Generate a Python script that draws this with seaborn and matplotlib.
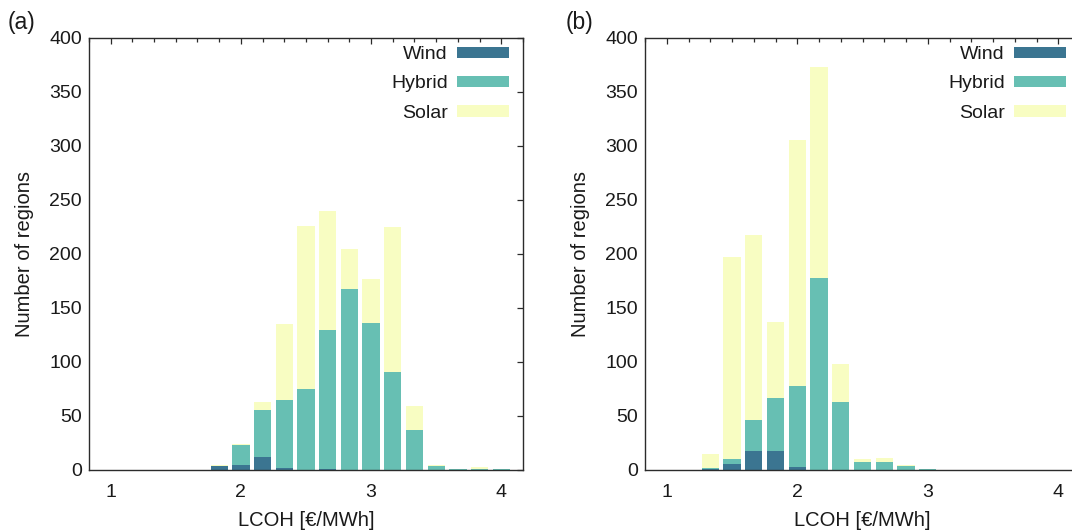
import numpy as np
import pandas as pd
import matplotlib
matplotlib.use("Agg")
import matplotlib.pyplot as plt
import seaborn as sns
from matplotlib.ticker import MultipleLocator
from matplotlib.patches import Patch

# ---- data (bin centres in LCOH, counts per technology) ----
bins_a = [1.833, 2.0, 2.167, 2.333, 2.5, 2.667, 2.833, 3.0, 3.167, 3.333, 3.5, 3.667, 3.833, 4.0]
wind_a = [4, 5, 12, 2, 0, 1, 0, 0, 0, 0, 0, 0, 0, 0]
hybrid_a = [0, 18, 44, 63, 75, 129, 168, 136, 91, 37, 4, 1, 1, 1]
solar_a = [1, 1, 7, 70, 151, 110, 37, 41, 134, 22, 1, 0, 2, 0]

bins_b = [1.333, 1.5, 1.667, 1.833, 2.0, 2.167, 2.333, 2.5, 2.667, 2.833, 3.0]
wind_b = [1, 6, 18, 18, 3, 0, 0, 0, 0, 0, 0]
hybrid_b = [1, 4, 28, 49, 75, 178, 63, 7, 7, 4, 1]
solar_b = [13, 187, 172, 70, 228, 195, 35, 3, 4, 1, 0]

series_labels = ["Wind", "Hybrid", "Solar"]
colors = {"Wind": "#3b7591", "Hybrid": "#67bfb3", "Solar": "#f8fdc2"}
panel_labels = ["(a)", "(b)"]
xticks = [1, 2, 3, 4]
yticks = [0, 50, 100, 150, 200, 250, 300, 350, 400]

sns.set_style("white")
plt.rcParams["font.family"] = ["Liberation Sans", "DejaVu Sans"]
plt.rcParams["font.size"] = 14

fig = plt.figure(figsize=(10.72, 5.30), dpi=100)
W, H = 1072, 530
ax_a = fig.add_axes([89 / W, (H - 470) / H, (523 - 89) / W, 432 / H])
ax_b = fig.add_axes([645 / W, (H - 470) / H, (1080 - 645) / W, 432 / H])

txt = "#1a1a1a"
spine_c = "#2b2b2b"

def draw(ax, bins, wind, hybrid, solar):
    df = pd.DataFrame({"x": bins, "Wind": wind, "Hybrid": hybrid, "Solar": solar})
    df["lvl_wind"] = df["Wind"]
    df["lvl_hybrid"] = df["Wind"] + df["Hybrid"]
    df["lvl_solar"] = df["Wind"] + df["Hybrid"] + df["Solar"]
    for col, name in [("lvl_solar", "Solar"), ("lvl_hybrid", "Hybrid"), ("lvl_wind", "Wind")]:
        sns.barplot(data=df, x="x", y=col, native_scale=True, color=colors[name],
                    saturation=1, width=0.8, linewidth=0, errorbar=None, ax=ax)
    ax.set_xlim(5 / 6, 25 / 6)
    ax.set_ylim(0, 400)
    ax.set_xticks(xticks)
    ax.set_yticks(yticks)
    ax.xaxis.set_minor_locator(MultipleLocator(1 / 6))
    ax.tick_params(which="both", direction="in", top=True, right=True,
                   color=spine_c, labelcolor=txt, labelsize=14)
    ax.tick_params(which="major", length=4.5, width=0.9)
    ax.tick_params(which="minor", length=3, width=0.9)
    ax.tick_params(axis="x", which="both", pad=10)
    ax.tick_params(axis="y", which="both", pad=5)
    for s in ax.spines.values():
        s.set_visible(True)
        s.set_color(spine_c)
        s.set_linewidth(1.0)
    ax.set_xlabel("LCOH [€/MWh]", fontsize=14.5, color=txt, labelpad=7)
    ax.set_ylabel("Number of regions", fontsize=14.5, color=txt, labelpad=11)
    handles = [Patch(facecolor=colors[n], edgecolor="none") for n in series_labels]
    ax.legend(handles, series_labels, loc="upper right", frameon=False, markerfirst=False,
              bbox_to_anchor=(1 - 14 / 434, 1 - 8 / 432),
              handlelength=2.65, handleheight=0.5, handletextpad=0.5, labelspacing=0.64,
              borderaxespad=0, borderpad=0, fontsize=14, labelcolor=txt)

draw(ax_a, bins_a, wind_a, hybrid_a, solar_a)
draw(ax_b, bins_b, wind_b, hybrid_b, solar_b)

fig.text(8 / W, 1 - 23 / H, panel_labels[0], fontsize=16.5, color=txt, va="center", ha="left")
fig.text(566 / W, 1 - 23 / H, panel_labels[1], fontsize=16.5, color=txt, va="center", ha="left")

fig.savefig("out.png", dpi=100)
